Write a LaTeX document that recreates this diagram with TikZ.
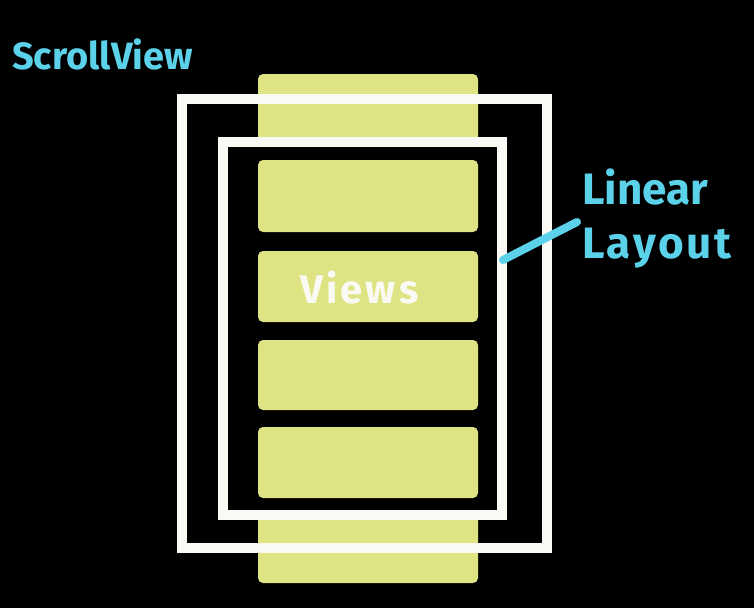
\documentclass[tikz,border=0pt]{standalone}
\usepackage{fontspec}
\setmainfont{Fira Sans}
\definecolor{yel}{RGB}{222,228,132}
\definecolor{cy}{RGB}{92,210,234}
\definecolor{wh}{RGB}{250,250,245}
\tikzset{
  yelbox/.style={fill=yel, rounded corners=5pt, inner sep=0pt, draw=none},
  frame/.style={draw=wh, line width=10pt, inner sep=0pt},
  cylabel/.style={text=cy, anchor=base west, inner sep=0pt},
  cyline/.style={draw=cy, line width=8pt, line cap=round}
}
\begin{document}
\begin{tikzpicture}[x=1pt,y=-1pt]
\fill[black] (0,0) rectangle (754,608);
\useasboundingbox (0,0) rectangle (754,608);
\node[yelbox, minimum width=220pt, minimum height=509pt] (strip) at (368,328.5) {};
\node[frame, minimum width=365pt, minimum height=449pt] (sv) at (364.5,323.5) {};
\node[frame, fill=black, minimum width=279pt, minimum height=373pt] (ll) at (362.5,328.5) {};
\node[yelbox, minimum width=220pt, minimum height=72pt] (v1) at (368,196) {};
\node[yelbox, minimum width=220pt, minimum height=71pt] (v2) at (368,286.5) {};
\node[yelbox, minimum width=220pt, minimum height=70pt] (v3) at (368,375) {};
\node[yelbox, minimum width=220pt, minimum height=71pt] (v4) at (368,462.5) {};
\node[text=wh, anchor=base west, inner sep=0pt, font=\fontsize{40}{44}\selectfont\bfseries\addfontfeature{LetterSpace=8}] (views) at (300,303) {Views};
\node[cylabel, font=\fontsize{38}{42}\selectfont\bfseries] (svtext) at (12,69) {ScrollView};
\node[cylabel, font=\fontsize{44}{48}\selectfont\bfseries] (lin) at (582,204) {Linear};
\node[cylabel, font=\fontsize{44}{48}\selectfont\bfseries\addfontfeature{LetterSpace=6}] (lay) at (582,258) {Layout};
\coordinate (lla) at (503,260);
\coordinate (llb) at (577,222);
\draw[cyline] (lla) -- (llb);
\end{tikzpicture}
\end{document}
